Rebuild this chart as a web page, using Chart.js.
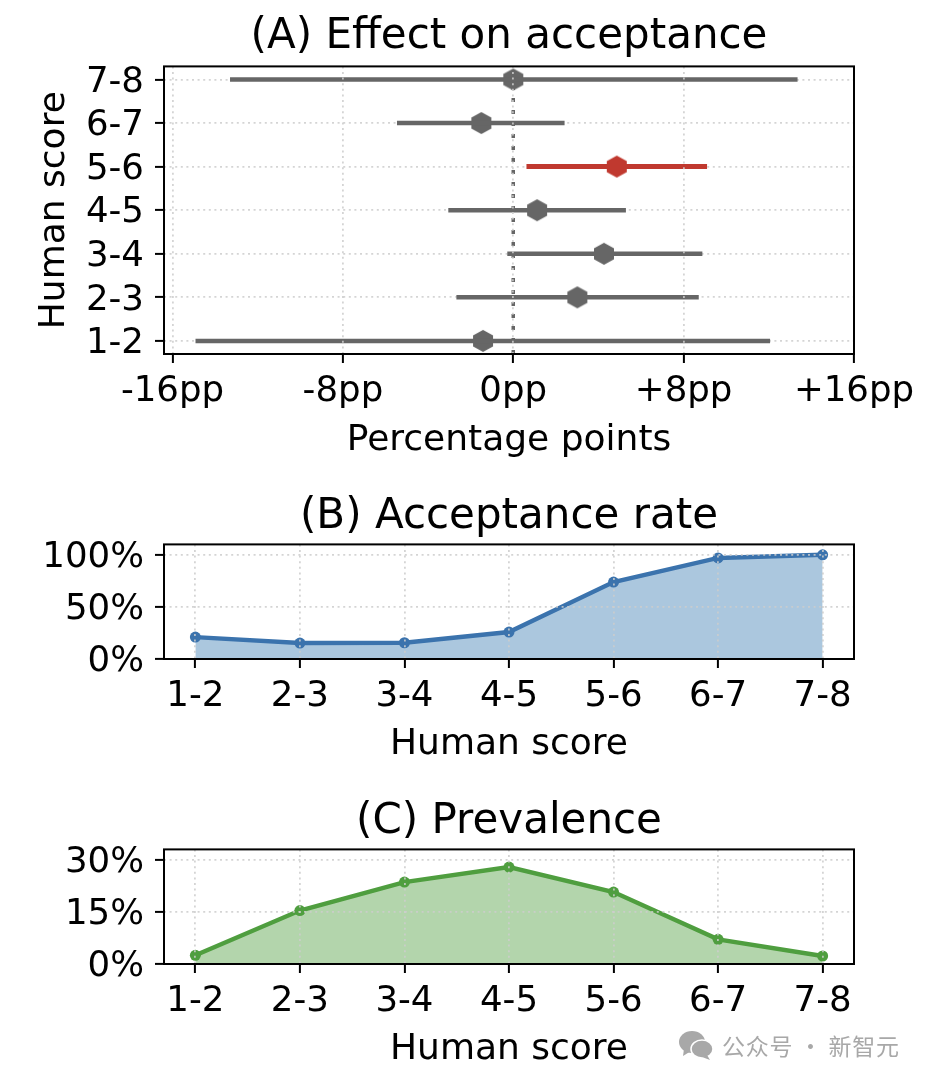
<!DOCTYPE html>
<html>
<head>
<meta charset="utf-8">
<script src="https://cdn.jsdelivr.net/npm/chart.js@4"></script>
<style>
    html, body { margin: 0; padding: 0; background: #fff; }
    #page { position: relative; width: 930px; height: 1082px; overflow: hidden; }
    canvas { position: absolute; left: 0; }
    #mark { position: absolute; left: 678px; top: 1027px; height: 36px; white-space: nowrap; color: #a8a8a8;
            font: 23px "Noto Sans CJK SC"; line-height: 36px; letter-spacing: 0.7px; }
    #mark svg { position: absolute; left: 0; top: 2px; }
    #mark span { position: absolute; left: 44px; top: 0; }
</style>
</head>
<body>
<div id="page">
    <canvas id="chartA" width="930" height="462" style="top:0"></canvas>
    <canvas id="chartB" width="930" height="290" style="top:476px"></canvas>
    <canvas id="chartC" width="930" height="290" style="top:781px"></canvas>
    <div id="mark">
        <svg width="36" height="32" viewBox="0 0 36 32">
            <ellipse cx="14" cy="13" rx="13" ry="11" fill="#a8a8a8"/>
            <path d="M6 20 L5 27 L13 22 Z" fill="#a8a8a8"/>
            <ellipse cx="24" cy="20" rx="11" ry="9" fill="#a8a8a8" stroke="#fff" stroke-width="1.5"/>
            <path d="M29 26 L32 31 L24 28 Z" fill="#a8a8a8"/>
        </svg>
        <span>公众号 · 新智元</span>
    </div>
</div>
<script>
// Data
var scoreLabels = ["1-2", "2-3", "3-4", "4-5", "5-6", "6-7", "7-8"];
var scorePositions = [0, 1, 2, 3, 4, 5, 6];
var effect = [-1.42, 3.01, 4.26, 1.12, 4.86, -1.5, 0];
var ciLow = [-14.92, -2.67, -0.28, -3.05, 0.62, -5.46, -13.3];
var ciHigh = [12.06, 8.71, 8.88, 5.29, 9.1, 2.41, 13.35];
var significant = [false, false, false, false, true, false, false];
var effectTicks = [-16, -8, 0, 8, 16];
var acceptance = [21, 15.3, 15.6, 25.9, 73.8, 97, 100];
var acceptanceTicks = [0, 50, 100];
var prevalence = [2.5, 15.4, 23.6, 27.9, 20.7, 7.1, 2.3];
var prevalenceTicks = [0, 15, 30];

var FONT = '"DejaVu Sans"';
var GREY = "#666666";
var RED = "#c0392f";
var GRID = "rgba(205,205,205,0.85)";
var LEFT_PAD = 33;

// All four spines, the axis borders are switched off because the grid sits on top
var framePlugin = {
    id: "frame",
    afterDraw: function (chart) {
        var a = chart.chartArea;
        var ctx = chart.ctx;
        ctx.save();
        ctx.strokeStyle = "#000";
        ctx.lineWidth = 2;
        ctx.strokeRect(a.left, a.top, a.right - a.left, a.bottom - a.top);
        ctx.restore();
    }
};

// y tick labels sit a little under their ticks in the original
var labelShiftPlugin = {
    id: "labelShift",
    beforeDraw: function (chart) {
        chart.scales.y.getLabelItems().forEach(function (item) {
            item.options.translation[1] += 3;
        });
    }
};

// chart.js has no hexagon point style
function hexagon(color) {
    var c = document.createElement("canvas");
    c.width = 22;
    c.height = 24;
    var ctx = c.getContext("2d");
    ctx.fillStyle = color;
    ctx.beginPath();
    ctx.moveTo(11, 1);
    ctx.lineTo(21, 6.5);
    ctx.lineTo(21, 17.5);
    ctx.lineTo(11, 23);
    ctx.lineTo(1, 17.5);
    ctx.lineTo(1, 6.5);
    ctx.closePath();
    ctx.fill();
    return c;
}

function axis(min, max, ticks, format, title, tickPad, gridZ, afterFit) {
    return {
        type: "linear",
        min: min,
        max: max,
        afterBuildTicks: function (scale) {
            scale.ticks = ticks.map(function (v) { return { value: v }; });
        },
        afterFit: afterFit,
        ticks: {
            autoSkip: false,
            maxRotation: 0,
            color: "#000",
            padding: tickPad,
            font: { family: FONT, size: 35.6 },
            callback: format
        },
        grid: {
            z: gridZ,
            color: GRID,
            lineWidth: 1.8,
            tickColor: "#000",
            tickWidth: 2,
            tickLength: 9
        },
        border: { display: false, dash: [2, 3.6] },
        title: {
            display: !!title,
            text: title,
            color: "#000",
            font: { family: FONT, size: 36 },
            padding: 0
        }
    };
}

function scoreLabel(v) {
    return scoreLabels[v];
}

function percent(v) {
    return v + "%";
}

function signedPp(v) {
    return (v > 0 ? "+" : "") + v + "pp";
}

function options(title, titlePad, xAxis, yAxis) {
    return {
        responsive: false,
        animation: false,
        layout: { padding: { left: LEFT_PAD, right: 76, top: 0, bottom: 0 } },
        plugins: {
            legend: { display: false },
            tooltip: { enabled: false },
            title: {
                display: true,
                text: title,
                color: "#000",
                font: { family: FONT, size: 42, weight: "normal" },
                padding: titlePad,
                align: "center",
                fullSize: false
            }
        },
        scales: { x: xAxis, y: yAxis }
    };
}

function fixedWidth(s) {
    s.width = 164 - LEFT_PAD;
}

// ---- (A) Effect on acceptance
var effectSets = [];
effectSets.push({
    data: [{ x: 0, y: -0.3 }, { x: 0, y: 6.3 }],
    borderColor: GREY,
    borderWidth: 3.5,
    borderDash: [4, 8],
    pointRadius: 0
});
scoreLabels.forEach(function (label, i) {
    effectSets.push({
        data: [{ x: ciLow[i], y: i }, { x: ciHigh[i], y: i }],
        borderColor: significant[i] ? RED : GREY,
        borderWidth: significant[i] ? 5 : 4.5,
        pointRadius: 0
    });
});
var greyHex = hexagon(GREY);
var redHex = hexagon(RED);
effectSets.push({
    data: effect.map(function (v, i) { return { x: v, y: i }; }),
    showLine: false,
    pointStyle: significant.map(function (s) { return s ? redHex : greyHex; })
});

new Chart(document.getElementById("chartA"), {
    type: "line",
    data: { datasets: effectSets },
    plugins: [framePlugin, labelShiftPlugin],
    options: options("(A) Effect on acceptance", { top: 12, bottom: 4 },
        axis(-16.4, 16, effectTicks, signedPp, "Percentage points", 7, 1, function (s) { s.height = 108; }),
        axis(-0.3, 6.3, scorePositions, scoreLabel, "Human score", 11, 0, fixedWidth))
});

// ---- (B) and (C) share the same layout
function areaChart(id, title, values, color, fill, yMax, yTicks) {
    return new Chart(document.getElementById(id), {
        type: "line",
        data: {
            datasets: [{
                data: values.map(function (v, i) { return { x: i, y: v }; }),
                borderColor: color,
                borderWidth: 4.4,
                backgroundColor: fill,
                fill: "origin",
                tension: 0,
                pointRadius: 5.5,
                pointBackgroundColor: color,
                pointBorderWidth: 0
            }]
        },
        plugins: [framePlugin, labelShiftPlugin],
        options: options(title, { top: 16, bottom: 2 },
            axis(-0.3, 6.3, scorePositions, scoreLabel, "Human score", 7, 1, function (s) { s.height = 107; }),
            axis(0, yMax, yTicks, percent, "", 11, 1, fixedWidth))
    });
}

areaChart("chartB", "(B) Acceptance rate", acceptance, "#3b73ad", "rgba(60,125,178,0.43)", 110, acceptanceTicks);
areaChart("chartC", "(C) Prevalence", prevalence, "#4f9e3f", "rgba(79,158,63,0.43)", 33, prevalenceTicks);
</script>
</body>
</html>
